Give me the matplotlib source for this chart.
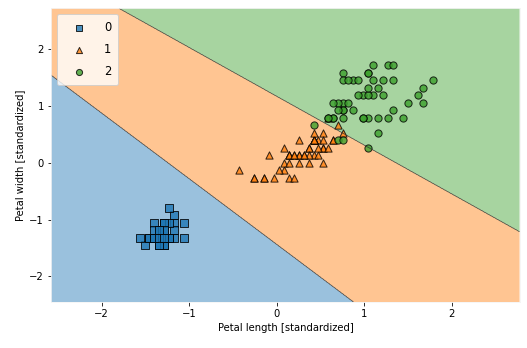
import numpy as np
import matplotlib.pyplot as plt
from matplotlib.colors import ListedColormap

# standardized petal length / width
setosa_x = [-1.341, -1.341, -1.398, -1.284, -1.341, -1.170, -1.341, -1.284, -1.341, -1.284,
            -1.284, -1.227, -1.284, -1.341, -1.511, -1.455, -1.284, -1.398, -1.341, -1.170,
            -1.284, -1.170, -1.284, -1.568, -1.170, -1.057, -1.227, -1.227, -1.284, -1.341,
            -1.227, -1.227, -1.284, -1.284, -1.341, -1.284, -1.455, -1.398, -1.341, -1.398,
            -1.284, -1.398, -1.398, -1.398, -1.227, -1.057, -1.341, -1.227, -1.341, -1.284]
setosa_y = [-1.316, -1.316, -1.316, -1.316, -1.316, -1.053, -1.184, -1.316, -1.316, -1.447,
            -1.316, -1.316, -1.447, -1.447, -1.447, -1.316, -1.053, -1.053, -1.184, -1.184,
            -1.184, -1.316, -1.053, -1.316, -0.921, -1.316, -1.316, -1.053, -1.316, -1.316,
            -1.316, -1.316, -1.053, -1.447, -1.316, -1.316, -1.316, -1.316, -1.447, -1.316,
            -1.184, -1.184, -1.316, -1.316, -0.789, -1.053, -1.184, -1.316, -1.316, -1.316]

versicolor_x = [0.534, 0.420, 0.648, 0.136, 0.477, 0.420, 0.534, -0.261, 0.477, 0.080,
                -0.148, 0.250, 0.136, 0.534, -0.091, 0.364, 0.420, 0.193, 0.420, 0.080,
                0.591, 0.136, 0.648, 0.534, 0.307, 0.364, 0.591, 0.705, 0.420, -0.148,
                0.023, -0.034, 0.080, 0.761, 0.420, 0.420, 0.534, 0.364, 0.193, 0.136,
                0.364, 0.477, 0.136, -0.261, 0.250, 0.250, 0.250, 0.307, -0.432, 0.193]
versicolor_y = [0.263, 0.395, 0.395, 0.132, 0.395, 0.132, 0.526, -0.263, 0.132, 0.263,
                -0.263, 0.395, -0.263, 0.263, 0.132, 0.263, 0.395, -0.263, 0.395, -0.132,
                0.789, 0.132, 0.395, 0.000, 0.132, 0.263, 0.263, 0.658, 0.395, -0.263,
                -0.132, -0.263, 0.000, 0.526, 0.395, 0.526, 0.395, 0.132, 0.132, 0.132,
                0.000, 0.263, 0.000, -0.263, 0.132, 0.000, 0.132, 0.132, -0.132, 0.132]

virginica_x = [1.273, 0.761, 1.216, 1.045, 1.159, 1.614, 0.420, 1.443, 1.159, 1.330,
               0.761, 0.875, 0.989, 0.705, 0.761, 0.875, 0.989, 1.670, 1.784, 0.705,
               1.102, 0.648, 1.670, 0.648, 1.102, 1.273, 0.591, 0.648, 1.045, 1.159,
               1.330, 1.500, 1.045, 0.761, 1.045, 1.330, 1.045, 0.989, 0.591, 0.932,
               1.045, 0.761, 0.761, 1.216, 1.102, 0.818, 0.705, 0.818, 0.932, 0.761]
virginica_y = [1.711, 0.921, 1.184, 0.789, 1.316, 1.184, 0.658, 0.789, 0.789, 1.711,
               1.053, 0.921, 1.184, 1.053, 1.579, 1.447, 0.789, 1.316, 1.447, 0.395,
               1.447, 1.053, 1.053, 0.789, 1.184, 0.789, 0.789, 0.789, 1.184, 0.526,
               0.921, 1.053, 1.316, 0.395, 0.263, 1.447, 1.579, 0.789, 0.789, 1.184,
               1.579, 1.447, 0.921, 1.447, 1.711, 1.447, 0.921, 1.053, 1.447, 0.789]

labels = ['0', '1', '2']
markers = ['s', '^', 'o']
colors = ['#1f77b4', '#ff7f0e', '#3ca02c']

# decision boundaries (point on left/top edge, slope)
b01 = (-2.58, 1.54, -1.154)
b12 = (-1.81, 2.72, -0.858)

x_min, x_max = -2.58, 2.78
y_min, y_max = -2.45, 2.72

fig = plt.figure(figsize=(527 / 72, 348 / 72), dpi=72)
ax = fig.add_axes([51 / 527, 1 - 302 / 348, 469 / 527, 294 / 348])

xx, yy = np.meshgrid(np.arange(x_min, x_max, 0.005), np.arange(y_min, y_max, 0.005))
Z = np.ones_like(xx)
Z[yy < b01[1] + b01[2] * (xx - b01[0])] = 0
Z[yy > b12[1] + b12[2] * (xx - b12[0])] = 2

cmap = ListedColormap(colors)
ax.contourf(xx, yy, Z, levels=[-0.5, 0.5, 1.5, 2.5], cmap=cmap, alpha=0.45, antialiased=True)
ax.contour(xx, yy, Z, levels=[0.5, 1.5], colors='#2a2a2a', linewidths=0.7, alpha=0.85)

data = [(setosa_x, setosa_y), (versicolor_x, versicolor_y), (virginica_x, virginica_y)]
for (xs, ys), m, c, lab in zip(data, markers, colors, labels):
    ax.scatter(xs, ys, marker=m, c=c, s=52, edgecolor='black', linewidths=1,
               alpha=0.8, label=lab)

ax.set_xlim(x_min, x_max)
ax.set_ylim(y_min, y_max)
ax.set_xticks([-2, -1, 0, 1, 2])
ax.set_yticks([-2, -1, 0, 1, 2])
ax.set_xlabel('Petal length [standardized]')
ax.set_ylabel('Petal width [standardized]')
for s in ax.spines.values():
    s.set_color('#f4f4f4')

ax.legend(loc='upper left', framealpha=0.8, scatterpoints=1, markerscale=0.85,
          handlelength=2.6, handletextpad=0.9, labelspacing=0.8, borderpad=0.6,
          fontsize=11.5)

plt.savefig('out.png', dpi=72)
plt.close()
